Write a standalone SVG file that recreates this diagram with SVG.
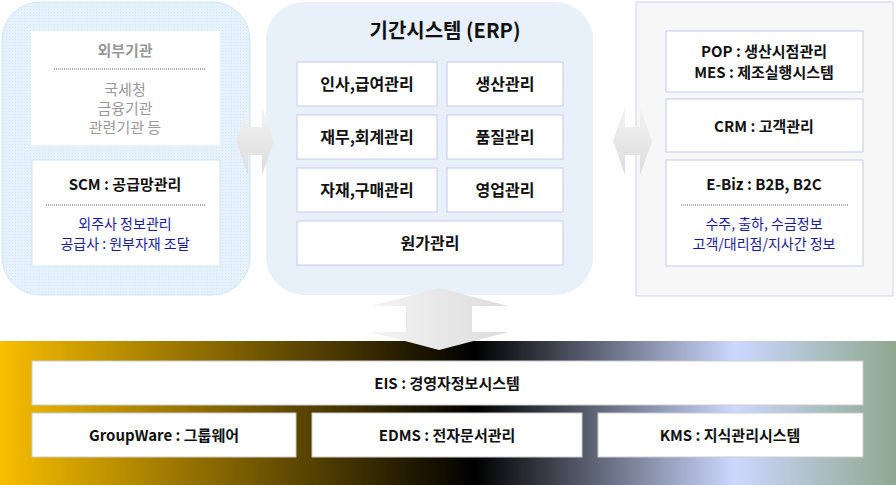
<svg xmlns="http://www.w3.org/2000/svg" width="896" height="485" viewBox="0 0 896 485">
<defs>
<linearGradient id="band" x1="0" y1="0" x2="1" y2="0">
<stop offset="0" stop-color="#F8BE00"/><stop offset="0.53" stop-color="#000"/><stop offset="0.82" stop-color="#CCD8FF"/><stop offset="1" stop-color="#8FA88F"/>
</linearGradient>
<linearGradient id="arr" x1="0" y1="0" x2="0" y2="1"><stop offset="0" stop-color="#f4f4f4"/><stop offset="1" stop-color="#dcdcdc"/></linearGradient>
<linearGradient id="arrv" x1="0" y1="0" x2="1" y2="0"><stop offset="0" stop-color="#f4f4f4"/><stop offset="1" stop-color="#dcdcdc"/></linearGradient>
<pattern id="dots" width="3" height="3" patternUnits="userSpaceOnUse"><rect width="3" height="3" fill="#e6f2fb"/><rect width="1" height="1" fill="#d2e6f6"/></pattern>
</defs>
<style>
text{font-family:"Noto Sans CJK KR","Noto Sans",sans-serif;text-anchor:middle}
.b{font-weight:bold;font-size:15px;fill:#111}
.g{font-size:15px;fill:#999}
.n{font-size:14px;fill:#1a1aa0}
.cell{fill:#fff;stroke:#c8c8f0;stroke-width:1}
.wb{fill:#fff;stroke:#ccc;stroke-width:1}
.sep{stroke:#555;stroke-dasharray:1 1}
</style>
<g id="left">
<rect x="2" y="2" width="248" height="293" rx="38" fill="url(#dots)" stroke="#cfe6f8"/>
<rect x="31" y="31" width="189" height="114" fill="#fff"/>
<text x="125" y="56" class="b" fill="#999" style="fill:#999">외부기관</text>
<line x1="54" y1="69" x2="206" y2="69" class="sep"/>
<text x="125" y="95" class="g">국세청</text>
<text x="125" y="114" class="g">금융기관</text>
<text x="125" y="133" class="g">관련기관 등</text>
<rect x="32" y="160" width="188" height="106" fill="#fff" stroke="#cfe6f8"/>
<text x="125" y="190" class="b">SCM : 공급망관리</text>
<line x1="46" y1="205" x2="206" y2="205" class="sep"/>
<text x="125" y="229" class="n">외주사 정보관리</text>
<text x="125" y="249" class="n">공급사 : 원부자재 조달</text>
</g>
<g id="erp">
<rect x="266" y="2" width="327" height="293" rx="38" fill="#e8f0fa"/>
<text x="445" y="38" style="font-weight:bold;font-size:20px;fill:#111">기간시스템 (ERP)</text>
<rect x="297" y="62" width="140" height="44" class="cell"/><text x="367" y="90" class="b" style="font-size:16px">인사,급여관리</text>
<rect x="447" y="62" width="116" height="44" class="cell"/><text x="505" y="90" class="b" style="font-size:16px">생산관리</text>
<rect x="297" y="115" width="140" height="44" class="cell"/><text x="367" y="143" class="b" style="font-size:16px">재무,회계관리</text>
<rect x="447" y="115" width="116" height="44" class="cell"/><text x="505" y="143" class="b" style="font-size:16px">품질관리</text>
<rect x="297" y="168" width="140" height="44" class="cell"/><text x="367" y="196" class="b" style="font-size:16px">자재,구매관리</text>
<rect x="447" y="168" width="116" height="44" class="cell"/><text x="505" y="196" class="b" style="font-size:16px">영업관리</text>
<rect x="297" y="221" width="266" height="44" class="cell"/><text x="430" y="249" class="b" style="font-size:16px">원가관리</text>
</g>
<g id="right">
<rect x="636" y="2" width="257" height="294" fill="#f7f7f7" stroke="#d0d0f0"/>
<rect x="666" y="31" width="197" height="61" class="cell"/>
<text x="764" y="57" class="b">POP : 생산시점관리</text>
<text x="764" y="78" class="b">MES : 제조실행시스템</text>
<rect x="666" y="99" width="197" height="53" class="cell"/>
<text x="764" y="132" class="b">CRM : 고객관리</text>
<rect x="666" y="160" width="197" height="106" class="cell"/>
<text x="764" y="190" class="b">E-Biz : B2B,  B2C</text>
<line x1="681" y1="205" x2="849" y2="205" class="sep"/>
<text x="764" y="229" class="n">수주, 출하, 수금정보</text>
<text x="764" y="249" class="n">고객/대리점/지사간 정보</text>
</g>
<g id="connectors">
<polygon points="236,141 248,107 248,127 262,127 262,107 274,141 262,175 262,155 248,155 248,175" fill="url(#arr)"/>
<polygon points="613,141 625,107 625,127 640,127 640,107 652,141 640,175 640,155 625,155 625,175" fill="url(#arr)"/>
<polygon points="439,288 508,306 472,306 472,332 508,332 439,350 371,332 406,332 406,306 371,306" fill="url(#arrv)"/>
</g>
<g id="bottom">
<rect x="0" y="341" width="896" height="144" fill="url(#band)"/>
<polygon points="439,350 508,332 406,332 371,332" fill="url(#arrv)"/>
<rect x="32" y="361" width="831" height="44" class="wb"/>
<text x="447" y="389" class="b">EIS : 경영자정보시스템</text>
<rect x="32" y="413" width="264" height="44" class="wb"/>
<text x="164" y="441" class="b">GroupWare : 그룹웨어</text>
<rect x="312" y="413" width="270" height="44" class="wb"/>
<text x="447" y="441" class="b">EDMS : 전자문서관리</text>
<rect x="598" y="413" width="265" height="44" class="wb"/>
<text x="730" y="441" class="b">KMS : 지식관리시스템</text>
</g>
</svg>
